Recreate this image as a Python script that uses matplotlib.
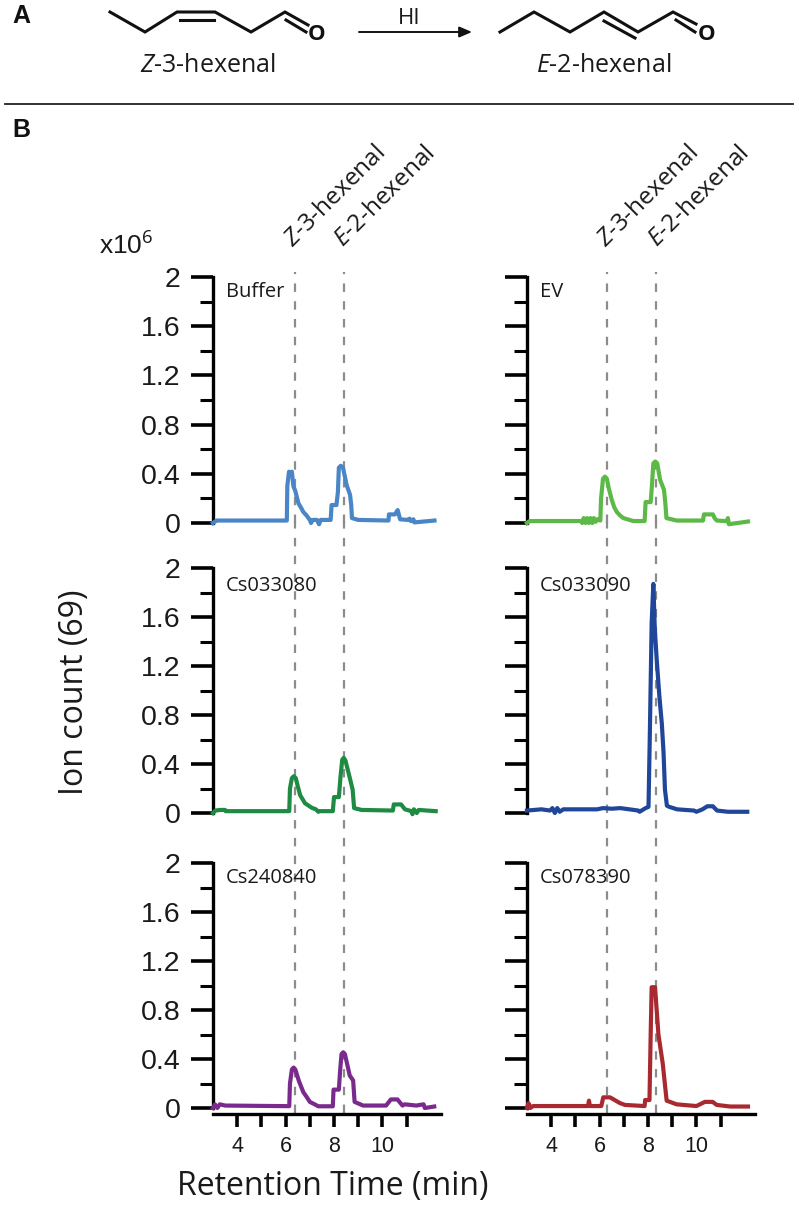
import matplotlib
matplotlib.use("Agg")
import matplotlib.pyplot as plt
from matplotlib.lines import Line2D

W, H = 799, 1211

plt.rcParams['mathtext.fontset'] = 'custom'
plt.rcParams['mathtext.it'] = 'Open Sans:italic'
plt.rcParams['mathtext.rm'] = 'Open Sans'

# retention time (min) and ion count (x10^6)
buffer_t = [3.0, 3.15, 3.3, 6.05, 6.07, 6.14, 6.2, 6.26, 6.32, 6.4, 6.53, 6.65, 6.73, 6.87, 7.0, 7.05, 7.12, 7.3, 7.38, 7.45, 7.86, 7.9, 8.1, 8.16, 8.2, 8.28, 8.37, 8.52, 8.66, 8.71, 8.74, 9.0, 10.25, 10.27, 10.52, 10.63, 10.73, 11.05, 11.12, 11.18, 11.28, 11.32, 12.15]
buffer_y = [0.0, 0.02, 0.02, 0.02, 0.3, 0.417, 0.4, 0.417, 0.3, 0.26, 0.16, 0.12, 0.09, 0.06, 0.025, 0.0, 0.025, 0.025, -0.01, 0.025, 0.025, 0.146, 0.146, 0.25, 0.45, 0.465, 0.45, 0.31, 0.23, 0.15, 0.04, 0.025, 0.02, 0.07, 0.07, 0.105, 0.03, 0.025, 0.035, 0.015, 0.03, 0.005, 0.02]

ev_t = [3.0, 3.1, 3.3, 5.24, 5.28, 5.34, 5.42, 5.48, 5.56, 5.62, 5.7, 5.76, 5.84, 5.9, 6.03, 6.06, 6.14, 6.22, 6.3, 6.38, 6.5, 6.6, 6.71, 6.85, 6.98, 7.39, 7.86, 7.9, 8.11, 8.16, 8.22, 8.3, 8.38, 8.5, 8.66, 8.72, 8.76, 9.18, 10.27, 10.31, 10.68, 10.75, 10.84, 11.26, 11.3, 11.34, 12.13]
ev_y = [0.0, 0.015, 0.016, 0.016, 0.0, 0.04, 0.0, 0.04, 0.0, 0.04, 0.0, 0.04, 0.01, 0.03, 0.02, 0.2, 0.36, 0.377, 0.36, 0.28, 0.19, 0.13, 0.09, 0.06, 0.04, 0.016, 0.016, 0.17, 0.17, 0.3, 0.485, 0.5, 0.485, 0.35, 0.27, 0.15, 0.04, 0.02, 0.02, 0.07, 0.07, 0.04, 0.02, 0.015, 0.04, -0.01, 0.012]

cs080_t = [3.0, 3.1, 3.3, 3.5, 3.52, 6.15, 6.18, 6.26, 6.34, 6.42, 6.5, 6.6, 6.8, 6.95, 7.08, 7.25, 7.35, 7.42, 7.95, 8.0, 8.2, 8.27, 8.34, 8.4, 8.47, 8.66, 8.77, 8.83, 9.14, 10.43, 10.47, 10.77, 10.93, 11.2, 11.24, 11.3, 11.42, 11.5, 12.2]
cs080_y = [0.0, 0.02, 0.025, 0.025, 0.015, 0.015, 0.2, 0.285, 0.3, 0.285, 0.22, 0.146, 0.08, 0.06, 0.043, 0.03, 0.01, 0.015, 0.015, 0.13, 0.13, 0.3, 0.435, 0.45, 0.43, 0.28, 0.19, 0.04, 0.025, 0.02, 0.07, 0.07, 0.03, 0.015, -0.01, 0.03, 0.0, 0.025, 0.015]

cs090_t = [3.0, 3.6, 3.95, 4.05, 4.15, 4.25, 4.35, 4.5, 5.9, 6.14, 6.5, 6.85, 7.6, 7.65, 7.9, 8.02, 8.08, 8.15, 8.22, 8.28, 8.36, 8.47, 8.57, 8.64, 8.7, 8.78, 8.88, 9.2, 9.9, 10.0, 10.25, 10.45, 10.68, 10.85, 11.3, 12.1]
cs090_y = [0.02, 0.03, 0.02, 0.04, 0.0, 0.04, 0.01, 0.03, 0.03, 0.04, 0.035, 0.04, 0.02, 0.01, 0.04, 0.05, 0.7, 1.55, 1.87, 1.5, 1.25, 0.95, 0.73, 0.5, 0.19, 0.06, 0.05, 0.03, 0.02, 0.01, 0.03, 0.055, 0.055, 0.02, 0.01, 0.01]

cs840_t = [3.0, 3.08, 3.18, 3.28, 3.5, 6.15, 6.18, 6.26, 6.33, 6.4, 6.55, 6.73, 6.87, 7.0, 7.2, 7.35, 7.95, 7.98, 8.2, 8.25, 8.31, 8.38, 8.45, 8.65, 8.79, 8.85, 9.2, 10.15, 10.35, 10.62, 10.83, 10.92, 11.4, 11.7, 11.75, 12.14]
cs840_y = [0.0, 0.03, 0.0, 0.03, 0.02, 0.015, 0.2, 0.315, 0.33, 0.315, 0.22, 0.13, 0.09, 0.05, 0.03, 0.014, 0.014, 0.15, 0.15, 0.3, 0.44, 0.455, 0.44, 0.265, 0.225, 0.05, 0.02, 0.02, 0.07, 0.07, 0.02, 0.03, 0.02, 0.03, 0.0, 0.012]

cs390_t = [3.0, 3.06, 3.14, 3.25, 5.52, 5.56, 5.6, 6.07, 6.15, 6.43, 6.84, 7.05, 7.86, 7.88, 8.06, 8.11, 8.15, 8.29, 8.43, 8.61, 8.71, 8.77, 9.18, 10.0, 10.35, 10.67, 10.84, 11.4, 12.13]
cs390_y = [0.0, 0.04, 0.0, 0.016, 0.016, 0.06, 0.016, 0.016, 0.087, 0.087, 0.04, 0.025, 0.016, 0.065, 0.065, 0.6, 0.986, 0.986, 0.6, 0.36, 0.17, 0.06, 0.03, 0.016, 0.05, 0.05, 0.025, 0.012, 0.012]

panel_names = ["Buffer", "EV", "Cs033080", "Cs033090", "Cs240840", "Cs078390"]
panel_t = [buffer_t, ev_t, cs080_t, cs090_t, cs840_t, cs390_t]
panel_y = [buffer_y, ev_y, cs080_y, cs090_y, cs840_y, cs390_y]
panel_colors = ["#4a86c5", "#5db947", "#1e8a44", "#1f4699", "#7a2a8c", "#a82a30"]

y_major = [0, 0.4, 0.8, 1.2, 1.6, 2]
y_major_labels = ["0", "0.4", "0.8", "1.2", "1.6", "2"]
y_minor = [0.2, 0.6, 1.0, 1.4, 1.8]
x_major = [4, 6, 8, 10]
x_minor = [5, 7, 9, 11]

# retention times of the two dashed lines per column
left_rt = [6.39, 8.41]
right_rt = [6.29, 8.34]

col_left = [213, 527]
row_zero = [523, 813, 1108]
row_top = [277, 568, 863]
label_drop = [15, 18, 15]
col_w = 228


def px_axes(x0, ytop, w, h):
    return fig.add_axes([x0 / W, 1 - (ytop + h) / H, w / W, h / H])


fig = plt.figure(figsize=(W / 100, H / 100), dpi=100, facecolor="white")

for i in range(6):
    col = i % 2
    row = i // 2
    panel_h = row_zero[row] - row_top[row]
    ax = px_axes(col_left[col], row_top[row], col_w, panel_h)
    ax.patch.set_alpha(0)
    ax.set_xlim(3, 12.42)
    ax.set_ylim(0, 2)

    rts = left_rt if col == 0 else right_rt
    top_ext = 1.02 if row == 0 else 1.19
    for rt in rts:
        ax.axvline(rt, ymin=-0.02 if row == 2 else 0, ymax=top_ext, color="#8c8c8c", lw=1.6,
                   dashes=(3.8, 4.2), clip_on=False, zorder=1)

    ax.plot(panel_t[i], panel_y[i], color=panel_colors[i], lw=3.0, clip_on=False,
            solid_joinstyle="round", zorder=3)

    for s in ["top", "right"]:
        ax.spines[s].set_visible(False)
    ax.spines["left"].set_linewidth(2.4)
    ax.set_yticks(y_major)
    ax.set_yticks(y_minor, minor=True)
    ax.tick_params(axis="y", which="major", length=15.5, width=2.6, pad=8, labelsize=20.5,
                   labelleft=(col == 0))
    ax.tick_params(axis="y", which="minor", length=9.5, width=2.2)
    if col == 0:
        ax.set_yticklabels(y_major_labels, family="Liberation Sans", color="#1a1a1a")

    if row == 2:
        ax.spines["bottom"].set_position(("outward", 4.3))
        ax.spines["bottom"].set_linewidth(2.4)
        ax.set_xticks(x_major)
        ax.set_xticks(x_minor, minor=True)
        ax.tick_params(axis="x", which="both", length=9, width=2.6, pad=7, labelsize=15.5)
        ax.set_xticklabels([str(v) for v in x_major], family="Liberation Sans", color="#1a1a1a")
    else:
        ax.spines["bottom"].set_visible(False)
        ax.set_xticks([])

    ax.text(13 / col_w, 1 - label_drop[row] / panel_h, panel_names[i], transform=ax.transAxes,
            ha="left", va="center", family="Open Sans", fontsize=14.5, color="#1a1a1a")

# overlay in pixel coordinates for the scheme in panel A and the figure texts
ov = fig.add_axes([0, 0, 1, 1], zorder=10)
ov.set_xlim(0, W)
ov.set_ylim(H, 0)
ov.axis("off")

z_chain = [(110, 12), (145, 32), (177, 12), (215, 12), (251, 32), (285, 12), (308, 25)]
z_inner = [(180, 20), (214, 20)]
z_co = [(286, 20), (306, 32)]
e_chain = [(500, 32), (534, 12), (570, 32), (604, 12), (638, 32), (673, 12), (696, 24)]
e_inner = [(604, 21), (635, 38)]
e_co = [(676, 20), (695, 32)]
for seg in [z_chain, z_inner, z_co, e_chain, e_inner, e_co]:
    ov.plot([p[0] for p in seg], [p[1] for p in seg], color="#111111", lw=2.2, solid_joinstyle="miter")
ov.text(317, 34, "O", ha="center", va="center", family="Open Sans", fontsize=16, fontweight="bold", color="#111111")
ov.text(707, 34, "O", ha="center", va="center", family="Open Sans", fontsize=16, fontweight="bold", color="#111111")
ov.annotate("", xy=(472, 32), xytext=(359, 32),
            arrowprops=dict(arrowstyle="-|>,head_length=0.75,head_width=0.32", color="#111111", lw=1.4,
                            shrinkA=0, shrinkB=0))
ov.text(409, 18, "HI", ha="center", va="center", family="Open Sans", fontsize=16, color="#1a1a1a")
ov.text(208, 65, r"$\mathit{Z}$-3-hexenal", ha="center", va="center", family="Open Sans", fontsize=18, color="#1a1a1a")
ov.text(604, 65, r"$\mathit{E}$-2-hexenal", ha="center", va="center", family="Open Sans", fontsize=18, color="#1a1a1a")
ov.text(12, 16, "A", ha="left", va="center", family="Liberation Sans", fontsize=18, fontweight="bold", color="#111111")
ov.text(12, 130, "B", ha="left", va="center", family="Liberation Sans", fontsize=18, fontweight="bold", color="#111111")
fig.add_artist(Line2D([5 / W, 793 / W], [1 - 104 / H, 1 - 104 / H], color="#222222", lw=1.3))

for x, label in [(297, r"$\mathit{Z}$-3-hexenal"), (347, r"$\mathit{E}$-2-hexenal"),
                 (610, r"$\mathit{Z}$-3-hexenal"), (661, r"$\mathit{E}$-2-hexenal")]:
    ov.text(x, 252, label, rotation=45, rotation_mode="anchor", ha="left", va="bottom",
            family="Open Sans", fontsize=17.6, color="#1a1a1a")

ov.text(99, 246, r"x10$^{6}$", ha="left", va="center", family="Liberation Sans", fontsize=19, color="#1a1a1a")
ov.text(75, 692, "Ion count (69)", rotation=90, ha="center", va="center", family="Open Sans", fontsize=23, color="#1a1a1a")
ov.text(333, 1187, "Retention Time (min)", ha="center", va="center", family="Open Sans", fontsize=23, color="#1a1a1a")

fig.savefig("out.png", dpi=100, facecolor="white")
